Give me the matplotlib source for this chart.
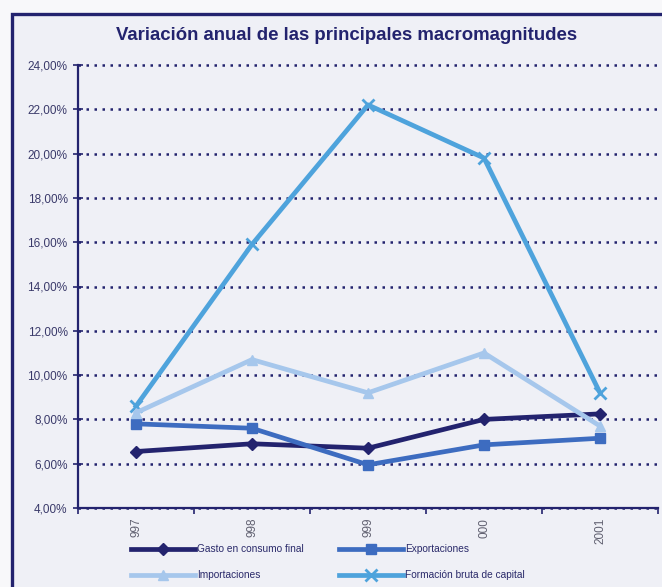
import matplotlib
matplotlib.use("Agg")
import matplotlib.pyplot as plt
from matplotlib.patches import Rectangle
from matplotlib.ticker import FuncFormatter, FixedLocator

plt.rcParams['font.family'] = ['Liberation Sans', 'DejaVu Sans']

# data
years = ["997", "998", "999", "000", "2001"]
gasto = [6.55, 6.9, 6.7, 8.0, 8.25]
exportaciones = [7.8, 7.6, 5.95, 6.85, 7.15]
importaciones = [8.3, 10.7, 9.2, 11.0, 7.7]
formacion = [8.6, 15.9, 22.2, 19.8, 9.2]
y_ticks = [4, 6, 8, 10, 12, 14, 16, 18, 20, 22, 24]

navy = "#23236e"

fig = plt.figure(figsize=(6.62, 5.87), dpi=100, facecolor="#f8f8fa")
frame = Rectangle((12 / 662, -0.1), 1.2, 0.1 + (1 - 14 / 587), transform=fig.transFigure,
                  facecolor="#eff0f6", edgecolor=navy, linewidth=2.4, clip_on=False, zorder=0)
fig.add_artist(frame)

ax = fig.add_axes([78 / 662, 1 - 508 / 587, 580 / 662, 443 / 587])
ax.set_facecolor("none")

x = list(range(len(years)))
series = [
    (gasto, "Gasto en consumo final", navy, "D", 6),
    (exportaciones, "Exportaciones", "#3d6cc0", "s", 7),
    (importaciones, "Importaciones", "#a6c7ec", "^", 7),
    (formacion, "Formación bruta de capital", "#4ea3dc", "x", 8),
]
handles = {}
for vals, label, color, marker, ms in series:
    h, = ax.plot(x, vals, color=color, lw=3.4, marker=marker, markersize=ms,
                 markeredgewidth=2 if marker == "x" else 1, label=label, zorder=3)
    handles[label] = h
handles["Formación bruta de capital"].set_zorder(2)

ax.set_xlim(-0.5, len(years) - 0.5)
ax.set_ylim(4, 24)
ax.set_yticks(y_ticks)
ax.yaxis.set_major_formatter(FuncFormatter(lambda v, p: f"{v:.2f}".replace(".", ",") + "%"))
ax.yaxis.grid(True, color=navy, linestyle=(0, (1, 2.2)), linewidth=1.8)
for gl in ax.get_ygridlines():
    gl.set_clip_on(False)
ax.set_axisbelow(True)

ax.set_xticks(x)
ax.set_xticklabels(years, rotation=90, color="#606070", fontsize=8.5)
ax.xaxis.set_minor_locator(FixedLocator([i - 0.5 for i in range(len(years) + 1)]))
ax.tick_params(axis="x", which="major", length=0, pad=7)
ax.tick_params(axis="x", which="minor", length=4, width=1.2, color=navy, direction="out")
ax.tick_params(axis="y", length=7, width=1.2, color=navy, direction="inout",
               labelsize=8.5, labelcolor="#3a3a6a", pad=4)

for side in ["top", "right"]:
    ax.spines[side].set_visible(False)
for side in ["left", "bottom"]:
    ax.spines[side].set_color(navy)
    ax.spines[side].set_linewidth(1.6)

fig.text(347 / 662, 1 - 35 / 587, "Variación anual de las principales macromagnitudes",
         ha="center", va="center", fontsize=13.4, fontweight="bold", color=navy)

# legend filled column-wise: first column Gasto / Importaciones
order = ["Gasto en consumo final", "Importaciones", "Exportaciones", "Formación bruta de capital"]
fig.legend(handles=[handles[k] for k in order], loc="upper left",
           bbox_to_anchor=(122 / 662, 1 - 535 / 587),
           ncol=2, frameon=False, fontsize=7.3, numpoints=1, handlelength=6.3,
           handletextpad=0.2, columnspacing=3.5, labelspacing=1.6, labelcolor="#2a2a6a")

fig.savefig("out.png", dpi=100, facecolor=fig.get_facecolor())
